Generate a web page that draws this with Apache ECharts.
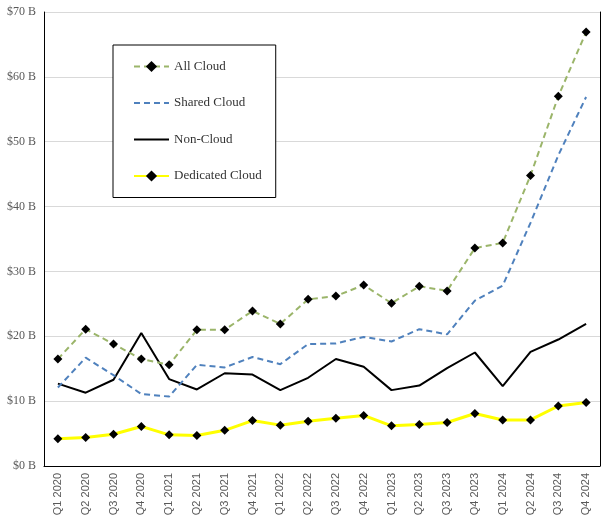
<!DOCTYPE html>
<html>
<head>
<meta charset="utf-8">
<script src="https://cdn.jsdelivr.net/npm/echarts@6/dist/echarts.min.js"></script>
<style>html,body{margin:0;padding:0;background:#fff}#c{width:614px;height:525px}</style>
</head>
<body>
<div id="c"></div>
<script>
const categories = ["Q1 2020","Q2 2020","Q3 2020","Q4 2020","Q1 2021","Q2 2021","Q3 2021","Q4 2021","Q1 2022","Q2 2022","Q3 2022","Q4 2022","Q1 2023","Q2 2023","Q3 2023","Q4 2023","Q1 2024","Q2 2024","Q3 2024","Q4 2024"];
const allCloud = [16.5,21.1,18.8,16.5,15.6,21.0,21.0,23.9,21.9,25.7,26.2,27.9,25.1,27.7,27.0,33.6,34.4,44.8,57.0,66.9];
const sharedCloud = [12.1,16.7,14.0,11.1,10.7,15.6,15.2,16.8,15.7,18.8,18.9,19.9,19.2,21.1,20.3,25.5,27.8,37.5,47.9,56.9];
const nonCloud = [12.7,11.3,13.3,20.5,13.4,11.8,14.3,14.1,11.7,13.6,16.5,15.3,11.7,12.4,15.1,17.5,12.3,17.6,19.5,21.9];
const dedicatedCloud = [4.2,4.4,4.9,6.1,4.8,4.7,5.5,7.0,6.3,6.9,7.35,7.8,6.2,6.4,6.7,8.1,7.1,7.1,9.25,9.8];
const yTicks = [0,10,20,30,40,50,60,70];

const chart = echarts.init(document.getElementById('c'));
const serif = 'Liberation Serif';
chart.setOption({
  animation: false,
  backgroundColor: '#fff',
  grid: {left: 44, right: 14, top: 12, bottom: 59},
  legend: {
    orient: 'vertical',
    left: 113, top: 45,
    padding: [15, 14, 15, 20],
    itemWidth: 35, itemHeight: 14, itemGap: 23.5,
    borderColor: '#000', borderWidth: 1,
    backgroundColor: '#fff',
    textStyle: {fontFamily: serif, fontSize: 13, color: '#333'},
    data: [
      {name: 'All Cloud'},
      {name: 'Shared Cloud', itemStyle: {opacity: 0}},
      {name: 'Non-Cloud', itemStyle: {opacity: 0}},
      {name: 'Dedicated Cloud'}
    ]
  },
  xAxis: [{
    type: 'category', data: categories, boundaryGap: true,
    axisLine: {show: true, lineStyle: {color: '#d9d9d9', width: 1}},
    axisTick: {show: false},
    axisLabel: {rotate: 90, margin: 7, fontFamily: 'Liberation Sans', fontSize: 11, color: '#595959', interval: 0}
  }, {
    type: 'category', data: categories, position: 'top',
    axisLine: {show: true, lineStyle: {color: '#000', width: 1}},
    axisTick: {show: false}, axisLabel: {show: false}
  }],
  yAxis: [{
    type: 'value', min: 0, max: 70, interval: 10,
    axisLine: {show: true, lineStyle: {color: '#000', width: 1}},
    axisTick: {show: false},
    splitLine: {lineStyle: {color: '#d9d9d9', width: 1}},
    axisLabel: {margin: 8, fontFamily: serif, fontSize: 12, color: '#595959',
      formatter: v => yTicks.includes(v) ? '$' + v + ' B' : ''}
  }, {
    type: 'value', min: 0, max: 70, interval: 10, position: 'right',
    axisLine: {show: true, lineStyle: {color: '#000', width: 1}},
    axisTick: {show: false}, axisLabel: {show: false}, splitLine: {show: false}
  }],
  series: [
    {name: 'All Cloud', type: 'line', data: allCloud, z: 5,
     lineStyle: {color: '#9bb56a', width: 2, type: [6, 4]},
     itemStyle: {color: '#000'}, symbol: 'diamond', symbolSize: 9},
    {name: 'Shared Cloud', type: 'line', data: sharedCloud, z: 4,
     lineStyle: {color: '#4f81bd', width: 2, type: [6, 4]},
     itemStyle: {color: '#4f81bd'}, symbol: 'none'},
    {name: 'Non-Cloud', type: 'line', data: nonCloud, z: 3,
     lineStyle: {color: '#000', width: 2},
     itemStyle: {color: '#000'}, symbol: 'none'},
    {name: 'Dedicated Cloud', type: 'line', data: dedicatedCloud, z: 5,
     lineStyle: {color: '#ffff00', width: 3},
     itemStyle: {color: '#000'}, symbol: 'diamond', symbolSize: 9}
  ]
});
</script>
</body>
</html>
